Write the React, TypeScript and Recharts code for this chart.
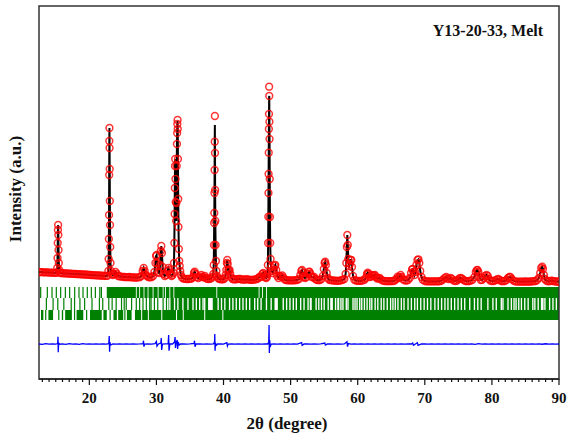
import {
  ComposedChart,
  XAxis,
  YAxis,
  Line,
  ReferenceArea,
  ReferenceLine,
  Customized,
} from "recharts";

// =====================
// Texts
// =====================
const chartTitle = "Y13-20-33, Melt";
const xLabel = "2θ (degree)";
const yLabel = "Intensity (a.u.)";
const FONT = '"Liberation Serif", "Times New Roman", Times, serif';

// =====================
// Axis
// =====================
const xDomain: [number, number] = [12.5, 90];
const yDomain: [number, number] = [-4000, 14650];
const majorTicks = [20, 30, 40, 50, 60, 70, 80, 90];
const allTicks = [
  13, 14, 15, 16, 17, 18, 19, 20, 21, 22, 23, 24, 25, 26, 27, 28, 29, 30, 31,
  32, 33, 34, 35, 36, 37, 38, 39, 40, 41, 42, 43, 44, 45, 46, 47, 48, 49, 50,
  51, 52, 53, 54, 55, 56, 57, 58, 59, 60, 61, 62, 63, 64, 65, 66, 67, 68, 69,
  70, 71, 72, 73, 74, 75, 76, 77, 78, 79, 80, 81, 82, 83, 84, 85, 86, 87, 88,
  89, 90,
];

// =====================
// Observed pattern [2θ, I]
// =====================
const iObs: [number, number][] = [
  [12.5, 1350], [12.75, 1345], [13.0, 1340], [13.25, 1335], [13.5, 1330], [13.75, 1330],
  [14.0, 1320], [14.25, 1320], [14.5, 1315], [14.75, 1310], [15.0, 1305], [15.15, 1320],
  [15.22, 1550], [15.26, 2050], [15.29, 2800], [15.32, 3450], [15.35, 3700], [15.38, 3200],
  [15.41, 2450], [15.45, 1800], [15.52, 1450], [15.6, 1320], [15.75, 1300], [16.0, 1290],
  [16.25, 1285], [16.5, 1280], [16.75, 1275], [17.0, 1270], [17.25, 1265], [17.5, 1260],
  [17.75, 1255], [18.0, 1250], [18.25, 1245], [18.5, 1240], [18.75, 1235], [19.0, 1230],
  [19.25, 1225], [19.5, 1220], [19.75, 1215], [20.0, 1210], [20.25, 1200], [20.5, 1195],
  [20.75, 1190], [21.0, 1185], [21.25, 1180], [21.5, 1175], [21.75, 1170], [22.0, 1165],
  [22.25, 1160], [22.5, 1155], [22.7, 1160], [22.84, 1400], [22.88, 2000], [22.91, 3000],
  [22.94, 4200], [22.96, 6200], [22.98, 7900], [23.0, 8550], [23.02, 7550], [23.04, 6500],
  [23.06, 4900], [23.09, 3700], [23.12, 2600], [23.16, 1800], [23.22, 1400], [23.35, 1250],
  [23.5, 1200], [23.7, 1250], [23.9, 1350], [24.1, 1250], [24.3, 1150], [24.5, 1130],
  [24.75, 1120], [25.0, 1110], [25.25, 1100], [25.5, 1095], [25.75, 1090], [26.0, 1100],
  [26.25, 1085], [26.5, 1080], [26.75, 1075], [27.0, 1070], [27.25, 1080], [27.5, 1090],
  [27.75, 1150], [27.95, 1400], [28.1, 1550], [28.25, 1400], [28.4, 1200], [28.6, 1150],
  [28.8, 1100], [29.0, 1080], [29.25, 1090], [29.5, 1150], [29.7, 1350], [29.85, 1800],
  [29.95, 2150], [30.03, 2200], [30.12, 1800], [30.25, 1350], [30.4, 1300], [30.55, 1700],
  [30.65, 2400], [30.73, 2650], [30.82, 2300], [30.92, 1600], [31.05, 1250], [31.25, 1150],
  [31.45, 1200], [31.65, 1400], [31.78, 1550], [31.9, 1450], [32.05, 1250], [32.25, 1150],
  [32.4, 1200], [32.55, 1300], [32.62, 1800], [32.67, 2800], [32.71, 4250], [32.74, 5550],
  [32.77, 6650], [32.8, 7000], [32.84, 6000], [32.88, 4850], [32.94, 3900], [32.98, 4800],
  [33.02, 6650], [33.06, 7750], [33.09, 8300], [33.12, 8750], [33.15, 8950], [33.18, 8500],
  [33.21, 7000], [33.25, 5000], [33.29, 3600], [33.34, 2500], [33.4, 1900], [33.47, 1650],
  [33.55, 1400], [33.65, 1200], [33.8, 1080], [34.0, 1020], [34.25, 1010], [34.5, 1000],
  [34.75, 1000], [35.0, 1010], [35.25, 1020], [35.45, 1100], [35.6, 1300], [35.7, 1365],
  [35.82, 1250], [36.0, 1100], [36.25, 1050], [36.5, 1120], [36.7, 1200], [36.9, 1100],
  [37.05, 1080], [37.2, 1160], [37.35, 1060], [37.55, 1010], [37.75, 1000], [38.0, 1010],
  [38.2, 1050], [38.35, 1120], [38.48, 1250], [38.54, 1700], [38.58, 2700], [38.61, 3800],
  [38.63, 4300], [38.65, 5300], [38.67, 6450], [38.69, 7865], [38.71, 9150], [38.73, 7300],
  [38.75, 5450], [38.78, 3900], [38.82, 2700], [38.87, 1900], [38.94, 1400], [39.02, 1150],
  [39.2, 1040], [39.4, 1000], [39.6, 990], [39.8, 985], [40.0, 990], [40.2, 1050],
  [40.32, 1200], [40.42, 1450], [40.5, 1800], [40.56, 1950], [40.63, 1750], [40.72, 1450],
  [40.82, 1400], [40.9, 1450], [41.0, 1250], [41.15, 1080], [41.35, 1000], [41.55, 985],
  [41.75, 980], [42.0, 990], [42.25, 1010], [42.5, 1000], [42.75, 975], [43.0, 970],
  [43.25, 975], [43.5, 990], [43.75, 970], [44.0, 960], [44.25, 960], [44.5, 965],
  [44.75, 980], [45.0, 1000], [45.2, 1050], [45.4, 1120], [45.6, 1100], [45.8, 1250],
  [45.92, 1300], [46.05, 1200], [46.2, 1100], [46.35, 1050], [46.48, 1100], [46.55, 1250],
  [46.61, 1700], [46.65, 2800], [46.68, 4115], [46.7, 5300], [46.72, 6250], [46.74, 7315],
  [46.76, 8500], [46.78, 9250], [46.8, 10615], [46.82, 10150], [46.84, 8865], [46.86, 8000],
  [46.89, 6000], [46.92, 4100], [46.96, 2800], [47.01, 2000], [47.08, 1600], [47.2, 1400],
  [47.35, 1300], [47.5, 1450], [47.62, 1650], [47.72, 1700], [47.85, 1450], [48.0, 1150],
  [48.2, 1050], [48.4, 1150], [48.55, 1120], [48.75, 1180], [48.9, 1080], [49.1, 980],
  [49.3, 950], [49.5, 940], [49.75, 935], [50.0, 930], [50.25, 930], [50.5, 935],
  [50.75, 940], [51.0, 960], [51.25, 1000], [51.45, 1200], [51.6, 1400], [51.7, 1450],
  [51.82, 1300], [51.95, 1100], [52.15, 1050], [52.35, 1100], [52.55, 1250], [52.7, 1350],
  [52.82, 1365], [52.95, 1250], [53.15, 1100], [53.35, 1080], [53.5, 1100], [53.7, 1000],
  [53.9, 960], [54.1, 940], [54.35, 950], [54.6, 1000], [54.8, 1150], [54.95, 1500],
  [55.07, 1800], [55.15, 1865], [55.25, 1700], [55.38, 1300], [55.55, 1050], [55.75, 960],
  [56.0, 940], [56.25, 930], [56.5, 920], [56.75, 915], [57.0, 910], [57.25, 915],
  [57.5, 930], [57.75, 960], [58.0, 1000], [58.2, 1250], [58.3, 1800], [58.38, 2600],
  [58.45, 3200], [58.52, 2700], [58.6, 2000], [58.72, 1650], [58.85, 1750], [58.95, 1950],
  [59.05, 1950], [59.15, 1600], [59.3, 1150], [59.5, 960], [59.75, 920], [60.0, 910],
  [60.25, 905], [60.5, 910], [60.75, 930], [61.0, 960], [61.2, 1050], [61.38, 1250],
  [61.5, 1315], [61.62, 1250], [61.78, 1100], [61.95, 1120], [62.1, 1200], [62.25, 1150],
  [62.45, 1180], [62.55, 1200], [62.7, 1100], [62.9, 1020], [63.1, 1040], [63.25, 1060],
  [63.45, 980], [63.7, 920], [64.0, 900], [64.25, 895], [64.5, 890], [64.75, 890],
  [65.0, 895], [65.25, 900], [65.5, 920], [65.75, 1000], [65.95, 1115], [66.1, 1050],
  [66.25, 1100], [66.4, 1200], [66.55, 1100], [66.75, 980], [67.0, 930], [67.25, 920],
  [67.5, 950], [67.75, 1050], [67.95, 1300], [68.1, 1480], [68.2, 1500], [68.32, 1350],
  [68.45, 1200], [68.58, 1350], [68.75, 1700], [68.9, 1950], [69.05, 1985], [69.18, 1800],
  [69.32, 1400], [69.5, 1100], [69.7, 960], [70.0, 900], [70.25, 885], [70.5, 880],
  [70.75, 880], [71.0, 885], [71.25, 880], [71.5, 878], [71.75, 880], [72.0, 885],
  [72.25, 890], [72.5, 920], [72.75, 980], [73.0, 1060], [73.2, 1100], [73.4, 1020],
  [73.6, 1000], [73.85, 1050], [74.05, 1000], [74.3, 920], [74.55, 900], [74.8, 920],
  [75.0, 980], [75.2, 1040], [75.4, 1050], [75.6, 1000], [75.85, 930], [76.1, 900],
  [76.35, 890], [76.6, 895], [76.85, 920], [77.1, 960], [77.4, 1100], [77.6, 1350],
  [77.75, 1440], [77.85, 1450], [77.98, 1350], [78.15, 1100], [78.35, 950], [78.55, 960],
  [78.75, 1050], [78.95, 1150], [79.2, 1200], [79.38, 1150], [79.55, 1000], [79.75, 920],
  [80.0, 900], [80.25, 900], [80.5, 930], [80.75, 980], [80.95, 1000], [81.15, 950],
  [81.4, 900], [81.65, 890], [81.9, 900], [82.15, 950], [82.4, 1050], [82.6, 1100],
  [82.75, 1100], [82.95, 1000], [83.2, 920], [83.45, 880], [83.7, 870], [84.0, 870],
  [84.25, 868], [84.5, 870], [84.75, 872], [85.0, 875], [85.25, 870], [85.5, 870],
  [85.75, 875], [86.0, 880], [86.25, 890], [86.5, 900], [86.75, 950], [87.0, 1050],
  [87.2, 1300], [87.35, 1550], [87.5, 1615], [87.62, 1500], [87.75, 1200], [87.9, 1000],
  [88.1, 920], [88.35, 880], [88.6, 890], [88.85, 920], [89.1, 900], [89.35, 880],
  [89.6, 875], [89.85, 870], [90.0, 870],
];

// calculated profile differs from the observed one only at the strongest tops
const iCalcTops: [number, number][] = [
  [33.15, 8900],
  [38.71, 8700],
  [46.8, 10100],
];

// =====================
// Difference curve [2θ, Iobs - Icalc + offset]
// =====================
const iDiff: [number, number][] = [
  [12.5, -2250], [13.0, -2270], [13.5, -2230], [14.0, -2260], [14.5, -2240], [15.0, -2255],
  [15.28, -2230], [15.33, -1885], [15.37, -2665], [15.42, -2200], [15.6, -2260], [16.0, -2240],
  [16.5, -2265], [17.0, -2235], [17.5, -2260], [18.0, -2240], [18.5, -2265], [19.0, -2235],
  [19.5, -2255], [20.0, -2245], [20.5, -2260], [21.0, -2240], [21.5, -2255], [22.0, -2240],
  [22.5, -2260], [22.9, -2230], [22.97, -1850], [23.02, -2635], [23.08, -2150], [23.15, -2300],
  [23.5, -2240], [24.0, -2260], [24.5, -2240], [25.0, -2255], [25.5, -2245], [26.0, -2260],
  [26.5, -2240], [27.0, -2255], [27.5, -2245], [28.0, -2230], [28.08, -2085], [28.14, -2385],
  [28.25, -2250], [28.75, -2240], [29.25, -2260], [29.8, -2230], [30.0, -2120], [30.08, -2360],
  [30.3, -2250], [30.65, -2200], [30.72, -1950], [30.78, -2550], [30.9, -2250], [31.3, -2240],
  [31.75, -2230], [31.82, -1800], [31.88, -2585], [32.0, -2250], [32.4, -2250], [32.7, -2150],
  [32.78, -1900], [32.84, -2450], [32.95, -2200], [33.1, -2050], [33.16, -2500], [33.25, -2150],
  [33.4, -2300], [33.6, -2250], [34.0, -2240], [34.5, -2260], [35.0, -2245], [35.6, -2220],
  [35.68, -2085], [35.75, -2385], [35.9, -2250], [36.5, -2240], [37.0, -2260], [37.5, -2245],
  [38.0, -2255], [38.5, -2240], [38.66, -2150], [38.7, -1750], [38.74, -2585], [38.8, -2200],
  [38.9, -2320], [39.1, -2250], [39.6, -2240], [40.0, -2255], [40.5, -2180], [40.58, -2350],
  [40.7, -2250], [41.2, -2240], [41.7, -2260], [42.2, -2245], [42.7, -2255], [43.2, -2240],
  [43.7, -2260], [44.2, -2245], [44.7, -2255], [45.2, -2240], [45.7, -2255], [46.2, -2245],
  [46.6, -2250], [46.74, -2150], [46.79, -1300], [46.83, -2700], [46.88, -2050], [46.95, -2400],
  [47.1, -2250], [47.5, -2240], [48.0, -2260], [48.5, -2245], [49.0, -2255], [49.5, -2240],
  [50.0, -2255], [50.5, -2245], [51.0, -2255], [51.65, -2180], [51.72, -2320], [52.0, -2250],
  [52.5, -2240], [53.0, -2260], [53.5, -2245], [54.0, -2255], [54.5, -2240], [55.1, -2200],
  [55.18, -2300], [55.5, -2250], [56.0, -2240], [56.5, -2260], [57.0, -2245], [57.5, -2255],
  [58.0, -2245], [58.4, -2135], [58.48, -2385], [58.6, -2230], [59.0, -2260], [59.5, -2245],
  [60.0, -2255], [60.5, -2240], [61.0, -2255], [61.5, -2245], [62.0, -2255], [62.5, -2240],
  [63.0, -2255], [63.5, -2245], [64.0, -2255], [64.5, -2240], [65.0, -2255], [65.5, -2245],
  [66.0, -2255], [66.5, -2240], [67.0, -2255], [67.5, -2245], [68.0, -2250], [68.2, -2200],
  [68.3, -2310], [68.9, -2190], [69.0, -2320], [69.5, -2250], [70.0, -2240], [70.5, -2258],
  [71.0, -2240], [71.5, -2258], [72.0, -2242], [72.5, -2256], [73.0, -2240], [73.5, -2258],
  [74.0, -2242], [74.5, -2256], [75.0, -2240], [75.5, -2258], [76.0, -2242], [76.5, -2256],
  [77.0, -2240], [77.5, -2265], [78.0, -2235], [78.5, -2256], [79.0, -2242], [79.5, -2258],
  [80.0, -2240], [80.5, -2256], [81.0, -2242], [81.5, -2258], [82.0, -2240], [82.5, -2256],
  [83.0, -2242], [83.5, -2258], [84.0, -2240], [84.5, -2256], [85.0, -2242], [85.5, -2258],
  [86.0, -2240], [86.5, -2256], [87.0, -2242], [87.5, -2262], [88.0, -2238], [88.5, -2256],
  [89.0, -2242], [89.5, -2258], [90.0, -2250],
];

// =====================
// Bragg reflection rows (2θ)
// =====================
const braggRowsY: [number, number][] = [
  [50, 600],
  [-550, 50],
  [-1050, -550],
];

const row1Ticks = [
  12.75, 13.74, 14.44, 15.08, 15.73, 16.43, 17.07, 17.82, 18.46, 19.06, 19.7,
  20.3, 20.9, 21.56, 21.8,
];
const row1Bands: [number, number][] = [[22.6, 90]];
const row1Gaps = [
  27.0, 27.5, 28.15, 28.75, 29.5, 30.25, 31.0, 31.35, 32.0, 32.6, 39.0, 45.3,
  45.8, 46.4,
];

const row2Ticks = [
  13.6, 14.6, 15.3, 16.2, 17.3, 17.8, 18.6, 19.3, 20.4, 21.5, 22.0, 22.9, 23.4,
  24.0, 24.8, 25.2, 25.5, 26.3, 27.0, 27.5, 28.0, 28.5, 29.0, 29.2, 29.7, 30.2,
  31.0, 31.5,
];
const row2Bands: [number, number][] = [[31.8, 90]];
const row2Gaps = [
  32.0, 32.7, 33.2, 33.95, 34.7, 35.45, 35.95, 36.45, 36.95, 37.2, 39.2, 39.7,
  40.2, 40.9, 41.4, 41.9, 42.4, 42.9, 43.4, 43.9, 44.65, 45.1, 45.6, 46.4, 47.1,
  48.9, 49.4, 49.9, 50.4, 50.85, 51.5, 52.0, 52.6, 53.8, 54.2, 54.6, 55.0, 55.6,
  56.0, 56.2, 56.7, 57.5, 57.8, 58.3, 58.55, 59.3, 59.6, 59.9, 60.3, 60.6, 61.0,
  61.4, 61.8, 62.1, 62.6, 63.0, 63.5, 63.9, 64.4, 64.9, 65.25, 65.6, 66.0, 66.5,
  66.9, 67.5, 68.0, 68.5, 68.9, 69.4, 69.9, 70.4, 70.9, 71.5, 72.0, 72.5, 73.0,
  73.45, 73.95, 74.45, 74.95, 75.45, 75.95, 76.7, 77.4, 77.9, 78.4, 79.4, 80.15,
  80.65, 81.4, 81.65, 82.4, 82.9, 83.3, 83.6, 84.0, 84.4, 84.9, 85.4, 86.1,
  86.4, 86.9, 87.4, 87.6, 87.9, 88.6, 89.1, 89.6,
];
const row2WideGaps: [number, number][] = [
  [37.7, 38.4],
  [47.6, 48.1],
  [52.85, 53.15],
  [56.95, 57.25],
];

const row3Ticks = [13.5, 15.45, 17.8, 19.6, 23.1, 25.3];
const row3Bands: [number, number][] = [
  [12.8, 13.15], [13.9, 14.6], [15.9, 16.1], [16.4, 17.4], [18.1, 19.1],
  [20.1, 21.85], [22.1, 22.6], [23.6, 24.1], [24.3, 25.05], [25.6, 26.3],
  [26.8, 90],
];
const row3Gaps = [27.8, 28.8, 30.8, 33.0, 34.0, 37.2, 39.9];

// =====================
// Helpers
// =====================
const toPoints = (rows: [number, number][]) => rows.map(([x, y]) => ({ x, y }));

const obsData = toPoints(iObs);
const calcData = iObs.map(([x, y]) => {
  const top = iCalcTops.find(([tx]) => tx === x);
  return { x, y: top ? top[1] : y };
});
const diffData = toPoints(iDiff);

function cutBands(
  bands: [number, number][],
  gaps: [number, number][]
): [number, number][] {
  const out: [number, number][] = [];
  for (const [a, b] of bands) {
    let start = a;
    const inside = gaps
      .filter(([g1, g2]) => g2 > a && g1 < b)
      .sort((p, q) => p[0] - q[0]);
    for (const [g1, g2] of inside) {
      if (g1 > start) out.push([start, g1]);
      start = Math.max(start, g2);
    }
    if (start < b) out.push([start, b]);
  }
  return out;
}

const asGaps = (centers: number[], w: number): [number, number][] =>
  centers.map((c) => [c - w / 2, c + w / 2]);

const rowSpans = [
  cutBands(row1Bands, asGaps(row1Gaps, 0.13)),
  cutBands(row2Bands, [...asGaps(row2Gaps, 0.2), ...row2WideGaps]),
  cutBands(row3Bands, asGaps(row3Gaps, 0.15)),
];
const rowTicks = [row1Ticks, row2Ticks, row3Ticks];

const GREEN = "#008000";
const textStyle = { fontFamily: FONT, fontWeight: 700 };

// =====================
// Axis tick (minor + major)
// =====================
function XTick({ x, y, payload }: any) {
  const major = majorTicks.includes(payload.value);
  return (
    <g>
      <line
        x1={x}
        x2={x}
        y1={y}
        y2={y + (major ? 6 : 3)}
        stroke="#111"
        strokeWidth={1.2}
      />
      {major && (
        <text
          x={x}
          y={y + 24}
          textAnchor="middle"
          style={{ ...textStyle, fontSize: 15 }}
          fill="#111"
        >
          {payload.value}
        </text>
      )}
    </g>
  );
}

function Labels() {
  return (
    <g fill="#111">
      <text x={543} y={36} textAnchor="end" style={{ ...textStyle, fontSize: 16 }}>
        {chartTitle}
      </text>
      <text x={287} y={429} textAnchor="middle" style={{ ...textStyle, fontSize: 17 }}>
        {xLabel}
      </text>
      <text
        transform="rotate(-90)"
        x={-189}
        y={21}
        textAnchor="middle"
        style={{ ...textStyle, fontSize: 17 }}
      >
        {yLabel}
      </text>
    </g>
  );
}

export default function App() {
  return (
    <div style={{ position: "absolute", left: 0, top: 0, background: "#fff" }}>
      <ComposedChart
        width={567}
        height={434}
        margin={{ top: 6, right: 8, bottom: 0, left: 39 }}
      >
        <XAxis
          type="number"
          dataKey="x"
          domain={xDomain}
          allowDataOverflow
          ticks={allTicks}
          interval={0}
          tickSize={0}
          tickMargin={0}
          tickLine={false}
          axisLine={{ stroke: "#222", strokeWidth: 1.5 }}
          tick={(p: any) => <XTick {...p} />}
          height={55}
        />
        <YAxis
          type="number"
          dataKey="y"
          domain={yDomain}
          allowDataOverflow
          hide
        />

        {/* Bragg positions */}
        {rowSpans.map((spans, r) =>
          spans.map(([a, b], i) => (
            <ReferenceArea
              key={`band-${r}-${i}`}
              x1={a}
              x2={b}
              y1={braggRowsY[r][0]}
              y2={braggRowsY[r][1]}
              fill={GREEN}
              fillOpacity={1}
              stroke="none"
            />
          ))
        )}
        {rowTicks.map((ticks, r) =>
          ticks.map((t, i) => (
            <ReferenceLine
              key={`tick-${r}-${i}`}
              segment={[
                { x: t, y: braggRowsY[r][0] },
                { x: t, y: braggRowsY[r][1] },
              ]}
              stroke={GREEN}
              strokeWidth={1.2}
            />
          ))
        )}

        <Line
          data={diffData}
          dataKey="y"
          stroke="#0000ff"
          strokeWidth={1.3}
          dot={false}
          isAnimationActive={false}
        />
        <Line
          data={obsData}
          dataKey="y"
          stroke="none"
          dot={{
            r: 3.4,
            stroke: "#ff0000",
            strokeWidth: 1.5,
            strokeOpacity: 0.8,
            fill: "none",
          }}
          isAnimationActive={false}
        />
        <Line
          data={calcData}
          dataKey="y"
          stroke="#000"
          strokeWidth={2}
          dot={false}
          isAnimationActive={false}
        />

        {/* frame */}
        <ReferenceArea
          x1={xDomain[0]}
          x2={xDomain[1]}
          y1={yDomain[0]}
          y2={yDomain[1]}
          fill="none"
          stroke="#333"
          strokeWidth={1.5}
        />
        <Customized component={Labels} />
      </ComposedChart>
    </div>
  );
}
